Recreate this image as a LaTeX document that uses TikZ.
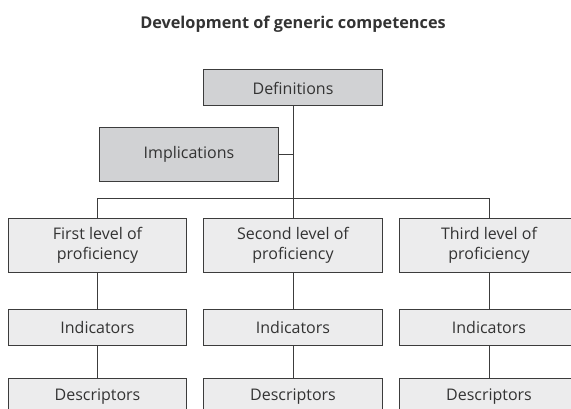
\documentclass[tikz,border=0pt]{standalone}
\usepackage{fontspec}
\setmainfont{Open Sans}
\definecolor{boxdark}{HTML}{D1D2D4}
\definecolor{boxlight}{HTML}{ECECED}
\definecolor{wire}{HTML}{3C3C3C}
\definecolor{txt}{HTML}{333333}
\tikzset{
    block/.style={shape=rectangle, draw=wire, line width=0.75pt, minimum width=134pt, text=txt, align=center, font=\fontsize{12}{15}\selectfont},
    topbox/.style={block, fill=boxdark},
    levelbox/.style={block, fill=boxlight, minimum height=41pt},
    subbox/.style={block, fill=boxlight, minimum height=27.5pt},
    wireline/.style={draw=wire, line width=0.75pt}
}
\begin{document}
\begin{tikzpicture}[x=0.75pt, y=-0.75pt]
            \useasboundingbox (0,0) rectangle (571,409);
            \clip (0,0) rectangle (571,409);
            % Paths, nodes and wires:
            \node[text=txt, font=\fontsize{12.2}{14}\selectfont\bfseries] (title) at (293, 24){Development of generic competences};
            \node[topbox, minimum height=27pt] (def) at (293, 88){Definitions};
            \node[topbox, minimum height=41pt] (impl) at (189, 154.5){Implications};
            \node[levelbox] (lvlA) at (97.5, 245.5){First level of\\proficiency};
            \node[levelbox] (lvlB) at (293, 245.5){Second level of\\proficiency};
            \node[levelbox] (lvlC) at (489, 245.5){Third level of\\proficiency};
            \node[subbox] (indA) at (97.5, 327.5){Indicators};
            \node[subbox] (indB) at (293, 327.5){Indicators};
            \node[subbox] (indC) at (489, 327.5){Indicators};
            \node[subbox] (descA) at (97.5, 396.5){Descriptors};
            \node[subbox] (descB) at (293, 396.5){Descriptors};
            \node[subbox] (descC) at (489, 396.5){Descriptors};
            \draw[wireline] (def.south) -- (lvlB.north);
            \draw[wireline] (impl.east) -- (impl.east -| def.south);
            \draw[wireline] (lvlA.north) -- ++(0, -19) -| (lvlC.north);
            \foreach \c in {A, B, C} {
                \draw[wireline] (lvl\c.south) -- (ind\c.north);
                \draw[wireline] (ind\c.south) -- (desc\c.north);
            }
        \end{tikzpicture}
\end{document}
